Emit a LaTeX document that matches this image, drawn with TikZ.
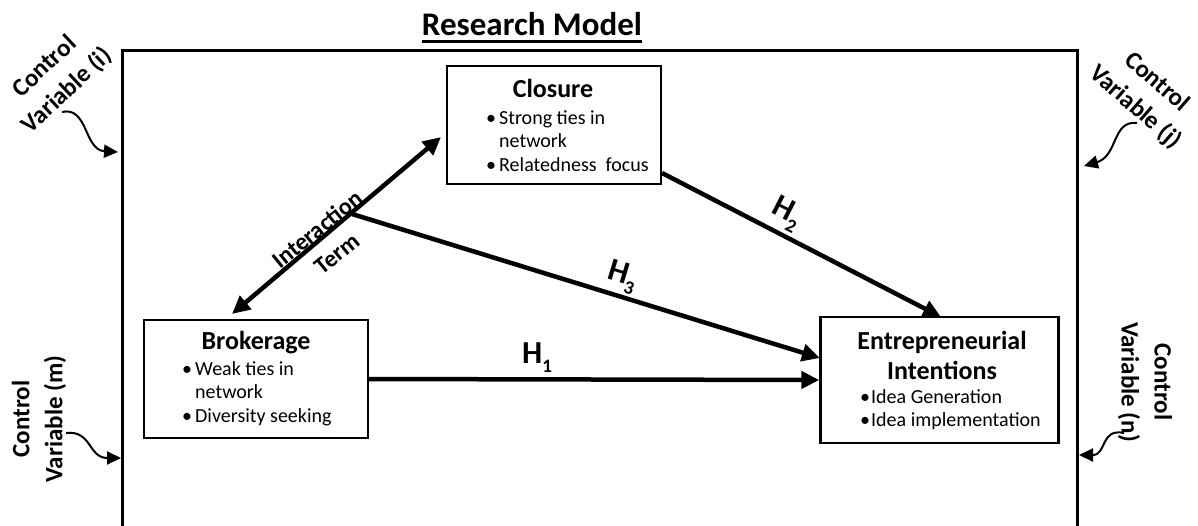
\documentclass[tikz,border=0pt]{standalone}
\usepackage{fontspec}
\setmainfont{Carlito}
\usetikzlibrary{arrows.meta}
\newcommand\fsz[2]{\fontsize{#1}{#2}\selectfont}
\newcommand\Hsub[1]{H\raisebox{-0.28em}{\fsz{19pt}{19pt}#1}}
\begin{document}
\begin{tikzpicture}[x=1pt,y=-1pt,
  frame/.style={line width=3pt},
  box/.style={draw,line width=2.4pt,inner sep=0pt},
  heading/.style={font=\fsz{26pt}{30pt}\bfseries,inner sep=0pt,align=center},
  bullets/.style={font=\fsz{20pt}{23.5pt},inner sep=0pt,align=left,anchor=north west},
  link/.style={line width=4.5pt,-{Triangle[length=18pt,width=17pt]}},
  hlabel/.style={font=\fsz{32pt}{32pt}\bfseries,inner sep=0pt},
  ctrl/.style={font=\fsz{25pt}{33pt}\bfseries,inner sep=0pt,align=center},
  wiggle/.style={line width=2pt,-{Triangle[length=14pt,width=13pt]}}]
\useasboundingbox (0,0) rectangle (1198,525);
% title
\node[font=\fsz{33pt}{33pt}\bfseries,inner sep=0pt] (title) at (532,24) {Research Model};
\draw[line width=2.2pt] ([yshift=-6pt]title.base west) -- ([yshift=-6pt]title.base east);
% frame
\draw[frame] (122,526) -- (122,50) -- (1077,50) -- (1077,526);
% boxes
\node[box,minimum width=214pt,minimum height=118pt] (clo) at (554,125) {};
\node[box,minimum width=224pt,minimum height=118pt] (bro) at (256,379) {};
\node[box,minimum width=238pt,minimum height=126pt] (ent) at (939.5,380) {};
% box contents
\node[heading] (cloH) at (553,88) {Closure};
\node[bullets] (cloB) at (486,110) {\makebox[13pt][l]{•}Strong ties in\\\hspace*{13pt}network\\\makebox[13pt][l]{•}Relatedness\ \ focus};
\node[heading] (broH) at (256,343) {Brokerage};
\node[bullets] (broB) at (182,361) {\makebox[13pt][l]{•}Weak ties in\\\hspace*{13pt}network\\\makebox[13pt][l]{•}Diversity seeking};
\node[heading] (entH) at (942,355) {Entrepreneurial\\Intentions};
\node[bullets] (entB) at (860,389) {\makebox[11pt][l]{•}Idea Generation\\\makebox[11pt][l]{•}Idea implementation};
% connectors
\coordinate (iaB) at (232,314);
\coordinate (iaC) at (441,137);
\coordinate (h3s) at (352,214);
\coordinate (h2s) at (662,173);
\coordinate (h2e) at (941,317);
\coordinate (h3e) at (820,358);
\draw[line width=4.5pt,{Triangle[length=18pt,width=17pt]}-{Triangle[length=18pt,width=17pt]}] (iaB) -- (iaC);
\draw[link] (h3s) -- (h3e);
\draw[link] (h2s) -- (h2e);
\draw[link] (bro.east) -- (ent.west);
% labels
\node[hlabel] (h1) at (537,358) {\Hsub{1}};
\node[hlabel,rotate=-27] (h2) at (786,214) {\Hsub{2}};
\node[hlabel,rotate=-17] (h3) at (622,277) {\Hsub{3}};
\node[font=\fsz{24pt}{31pt}\bfseries,inner sep=0pt,align=center,rotate=39] (ia) at (327,241) {Interaction\\Term};
% control variables
\node[ctrl,rotate=43] (ci) at (56,79) {Control\\Variable (i)};
\node[ctrl,rotate=-41] (cj) at (1146,95) {Control\\Variable (j)};
\node[ctrl,rotate=90] (cm) at (39,419) {Control\\Variable (m)};
\node[ctrl,rotate=-90] (cn) at (1145,382) {Control\\Variable (n)};
\coordinate (wi) at (118,152);
\coordinate (wj) at (1084,166);
\coordinate (wm) at (121,458);
\coordinate (wn) at (1079,455);
\draw[wiggle] (62,112) .. controls (88,106) and (84,150) .. (wi);
\draw[wiggle] (1137,123) .. controls (1112,120) and (1118,156) .. (wj);
\draw[wiggle] (66,433) .. controls (92,430) and (88,458) .. (wm);
\draw[wiggle] (1124,433) .. controls (1100,428) and (1107,455) .. (wn);
\end{tikzpicture}
\end{document}
